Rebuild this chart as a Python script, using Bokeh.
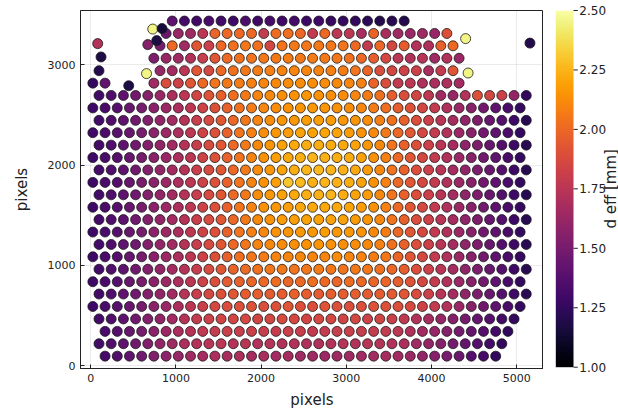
import numpy as np
from bokeh.plotting import figure
from bokeh.layouts import row
from bokeh.models import ColumnDataSource, LinearColorMapper, FixedTicker
from bokeh.core.properties import value
from bokeh.palettes import Inferno256
from bokeh.transform import transform
from bokeh.embed import file_html
from bokeh.resources import INLINE
import math

# ---- data ----
# y position (pixels) of each lattice row, bottom to top
row_y = [95, 219, 342, 466, 590, 714, 837, 961, 1085, 1208, 1332, 1456, 1579, 1703,
         1827, 1951, 2074, 2198, 2322, 2445, 2569, 2693, 2816, 2940, 3064, 3188, 3311, 3435]
# x position of the first spot in each row
row_x_first = [168.3, 97, 168.3, 97, 25, 97, 25, 97, 25, 97, 25, 97, 25, 97,
               25, 97, 25, 97, 25, 97, 25, 97, 741.5, 813.5, 741.5, 813.5, 884.8, 956.8]
pitch = 143.3  # spot spacing along a row (pixels)

# d_eff per spot, row by row (hundredths of mm)
deff_rows = [
    [132,136,141,147,153,158,162,165,167,169,168,169,167,168,166,167,165,164,163,164,165,166,166,167,166,163,160,155,150,145,138,132,125],
    [131,136,141,147,154,160,165,169,172,174,175,173,174,172,173,171,172,170,171,172,173,172,174,173,172,169,165,160,155,149,143,137,131,125],
    [133,138,144,150,157,163,169,173,177,179,181,180,182,180,179,181,180,178,179,180,181,180,179,178,175,171,166,161,155,149,143,137,131,125],
    [131,136,141,147,154,160,166,173,178,182,184,185,186,184,185,187,185,184,186,185,184,185,183,184,181,177,172,167,161,155,149,143,137,131,125],
    [129,133,138,144,150,157,163,169,176,181,186,188,190,191,189,190,192,190,189,191,190,189,190,191,190,189,187,183,178,171,163,156,148,141,133,126],
    [131,136,141,147,154,160,166,173,180,186,190,193,195,196,194,195,197,195,194,196,195,196,194,195,194,192,187,182,174,167,159,152,144,137,129,122],
    [129,133,138,144,150,157,163,169,176,183,189,194,197,199,200,201,199,200,202,200,199,201,200,199,199,196,191,186,178,171,163,156,148,141,133,126],
    [131,136,141,147,154,160,166,173,180,187,193,198,201,203,205,206,204,205,207,205,204,206,205,203,200,196,189,182,174,167,159,152,144,137,129,122],
    [129,133,138,144,150,157,163,169,176,183,190,197,202,205,207,209,210,211,209,210,212,210,209,207,205,199,193,186,178,171,163,156,148,141,133,126],
    [131,136,141,147,154,160,166,173,180,187,193,200,205,209,211,212,213,214,215,214,213,212,211,208,203,197,189,182,174,167,159,152,144,137,129,122],
    [129,133,138,144,150,157,163,169,176,183,190,197,204,208,211,214,215,216,216,217,216,216,214,211,207,200,193,186,178,171,163,156,148,141,133,126],
    [131,136,141,147,154,160,166,173,180,187,193,200,206,211,214,217,218,219,219,219,219,217,215,211,204,197,189,182,174,167,159,152,144,137,129,122],
    [129,133,138,144,150,157,163,169,176,183,190,197,204,209,214,216,218,221,221,221,221,220,217,214,208,200,193,186,178,171,163,156,148,141,133,126],
    [131,136,141,147,154,160,166,173,180,187,193,200,206,212,216,219,221,223,224,225,222,219,217,211,204,197,189,182,174,167,159,152,144,137,129,122],
    [129,133,138,144,150,157,163,169,176,183,190,197,204,209,214,218,230,226,224,225,224,222,219,214,208,200,193,186,178,171,163,156,148,141,133,126],
    [131,136,141,147,154,160,166,173,180,187,193,200,206,212,216,220,223,225,226,225,224,221,217,211,204,197,189,182,174,167,159,152,144,137,129,122],
    [129,133,138,144,150,157,163,169,176,183,190,197,204,209,214,218,221,223,225,224,223,222,219,214,208,200,193,186,178,171,163,156,148,141,133,126],
    [131,136,141,147,154,160,166,173,180,187,193,200,206,211,215,219,221,222,223,222,221,219,216,211,204,197,189,182,174,167,159,152,144,137,129,122],
    [130,134,139,144,150,157,163,169,176,183,190,197,204,208,212,215,217,219,219,220,219,217,214,211,206,200,193,186,178,171,163,156,148,141,133,126],
    [131,136,141,147,154,160,166,173,180,187,193,200,205,209,212,215,216,217,218,217,216,215,212,208,203,197,189,182,174,167,159,152,144,137,129,122],
    [129,133,138,144,150,157,163,169,176,183,190,197,203,207,210,212,214,215,216,215,214,212,210,207,202,196,191,185,178,171,163,156,148,141,133,126],
    [130,136,141,148,155,162,169,176,184,191,197,202,206,209,211,213,214,215,214,213,212,210,207,202,196,188,184,176,165,162,172,190,185,182,160,125],
    [165,188,182,192,200,204,206,207,208,210,211,212,212,213,212,211,210,208,198,188,178,175,170,168,170,166],
    [162,166,175,192,186,200,203,205,207,208,209,210,210,209,208,207,204,198,188,185,183,182,168,178,192],
    [152,162,165,172,180,192,200,203,204,205,206,207,206,207,206,205,203,200,196,186,175,172,174,165,172,163],
    [150,200,165,192,182,200,203,205,203,185,204,206,205,206,205,204,200,178,200,185,195,172,170,197,200],
    [145,162,165,175,198,200,200,200,178,201,202,200,178,200,176,175,168,198,168,165,163,165,162,190],
    [140,132,130,133,131,130,135,130,133,130,131,128,130,127,126,125,123,120,122,120],
]

# irregular spots off the lattice
extra_x = [25, 168, 446, 97, 655, 121, 82, 670, 775, 728, 837, 4401, 4430, 5156]
extra_y = [2816, 2816, 2790, 2940, 2911, 3077, 3210, 3200, 3240, 3355, 3360, 3260, 2917, 3215]
extra_deff = [125, 142, 118, 120, 245, 118, 172, 155, 118, 245, 115, 245, 245, 120]

x_ticks = [0, 1000, 2000, 3000, 4000, 5000]
y_ticks = [0, 1000, 2000, 3000]
cbar_low, cbar_high = 1.0, 2.5
cbar_ticks = [1.0, 1.25, 1.5, 1.75, 2.0, 2.25, 2.5]
cbar_title = "d eff [mm]"

# ---- build point table ----
xs, ys, vs = [], [], []
for r, vals in enumerate(deff_rows):
    for i, v in enumerate(vals):
        xs.append(row_x_first[r] + pitch * i)
        ys.append(row_y[r])
        vs.append(v / 100.0)
for x, y, v in zip(extra_x, extra_y, extra_deff):
    xs.append(x)
    ys.append(y)
    vs.append(v / 100.0)

src = ColumnDataSource(dict(x=xs, y=ys, v=vs))
mapper = LinearColorMapper(palette=Inferno256, low=cbar_low, high=cbar_high)

FONT = "DejaVu Sans"
INK = "#222222"

# ---- main scatter plot ----
p = figure(frame_width=463, frame_height=358, output_backend="svg", toolbar_location=None,
           x_range=(-120, 5315), y_range=(-28, 3540),
           min_border_left=80, min_border_right=0, min_border_top=10, min_border_bottom=41)
p.background_fill_color = "white"
p.border_fill_color = "white"
p.outline_line_color = INK
p.outline_line_width = 1

p.scatter("x", "y", source=src, size=10, marker="circle",
          fill_color=transform("v", mapper), line_color="#1a1a1a", line_width=0.8)

for ax in (p.xaxis, p.yaxis):
    ax.major_tick_in = 4
    ax.major_tick_out = 0
    ax.minor_tick_line_color = None
    ax.axis_line_color = INK
    ax.major_tick_line_color = INK
    ax.major_label_text_font = FONT
    ax.major_label_text_font_size = "11px"
    ax.major_label_text_color = INK
    ax.axis_label_text_font = FONT
    ax.axis_label_text_font_size = "15px"
    ax.axis_label_text_font_style = "normal"
    ax.axis_label_text_color = INK
p.xaxis.ticker = FixedTicker(ticks=x_ticks)
p.yaxis.ticker = FixedTicker(ticks=y_ticks)
p.xaxis.axis_label = "pixels"
p.yaxis.axis_label = "pixels"
p.xaxis.axis_label_standoff = 6
p.yaxis.axis_label_standoff = 14
p.grid.grid_line_color = "black"
p.grid.grid_line_alpha = 0.08
p.xgrid.ticker = FixedTicker(ticks=x_ticks)
p.ygrid.ticker = FixedTicker(ticks=y_ticks)

# ---- colour bar panel: same frame geometry as the main plot ----
span = cbar_high - cbar_low
per_px = span / 356.7                      # value units per screen pixel along the bar
cb = figure(title=None, frame_width=75, frame_height=358, output_backend="svg",
            toolbar_location=None,
            x_range=(0, 75), y_range=(cbar_low - 1.3 * per_px, cbar_high),
            min_border_top=10, min_border_bottom=41,
            min_border_left=0, min_border_right=0,
            x_axis_location=None, y_axis_location=None)
cb.outline_line_color = None
cb.grid.visible = False
cb.background_fill_color = "white"
cb.border_fill_color = "white"

grad = np.linspace(cbar_low, cbar_high, 256).reshape(256, 1)
cb.image(image=[grad], x=12.3, y=cbar_low, dw=17.7, dh=span, color_mapper=mapper)
cb.segment(x0=[30] * len(cbar_ticks), x1=[34.3] * len(cbar_ticks),
           y0=cbar_ticks, y1=cbar_ticks, line_color=INK, line_width=1, level="overlay")
cb.text(x=[35.8] * len(cbar_ticks), y=cbar_ticks, text=["%.2f" % t for t in cbar_ticks],
        text_font=value(FONT), text_font_size="12px", text_color=INK,
        text_align="left", text_baseline="middle", level="overlay")
cb.text(x=[67], y=[(cbar_low + cbar_high) / 2], text=[cbar_title], angle=math.pi / 2,
        text_font=value(FONT), text_font_size="15px", text_color=INK,
        text_align="center", text_baseline="middle", level="overlay")

layout = row(p, cb, spacing=0)
open("out.html", "w").write(file_html(layout, INLINE))
